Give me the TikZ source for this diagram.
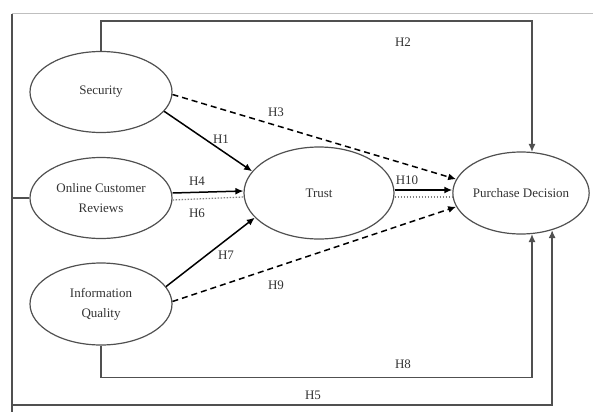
\documentclass[tikz,border=0pt]{standalone}
\usepackage{fontspec}
\setmainfont{Liberation Serif}
\usepackage{tikz}
\usetikzlibrary{shapes,arrows,arrows.meta,calc}
\definecolor{ink}{HTML}{333333}
\definecolor{wire}{HTML}{505050}
\tikzstyle{construct} = [draw=wire, ellipse, line width=1.2pt, inner sep=0pt, text centered, align=center, text=ink]
\tikzstyle{line} = [draw, -{Latex[length=8pt,width=7pt]}, line width=1.5pt]
\tikzstyle{link} = [line, draw=wire, line width=1.3pt]
\tikzstyle{dashedline} = [line, dash pattern=on 6pt off 4pt]
\tikzstyle{dottedline} = [draw=gray, line width=1.3pt, dash pattern=on 1.5pt off 1.5pt]
\tikzstyle{hyp} = [text=ink, inner sep=1pt]

\begin{document}
\begin{tikzpicture}[x=1pt, y=-1pt, node distance=106pt, font=\fontsize{13}{20}\selectfont]
        \useasboundingbox (0,0) rectangle (593,412);
        \draw[gray!50, line width=1pt] (593,14) -- (12,14);
        \draw[wire, line width=1.2pt] (12,14) -- (12,412);
        \node[construct, minimum width=142pt, minimum height=81pt] (sec) at (101,92) {Security};
        \node[construct, minimum width=142pt, minimum height=81pt, below of=sec] (ocr) {Online Customer\\Reviews};
        \node[construct, minimum width=142pt, minimum height=82pt, below of=ocr] (iq) {Information\\Quality};
        \node[construct, minimum width=150pt, minimum height=92pt] (trust) at (319,193) {Trust};
        \node[construct, minimum width=136pt, minimum height=82pt, right of=trust, node distance=202pt] (pd) {Purchase Decision};
        \coordinate (h5) at (12,405);
        \path[link] (sec.north) -- ++(0,-30) -| (pd.75);
        \path[dashedline] (sec.-2) -- (pd.168);
        \path[line] (sec.-17) -- (trust.162);
        \path[line] ([yshift=5pt]ocr.east) -- ([yshift=2pt]trust.west);
        \path[dottedline] ([yshift=-2pt]ocr.east) -- ([yshift=-4pt]trust.west);
        \path[line] (iq.15) -- (trust.-159);
        \path[dashedline] (iq.2) -- (pd.-168);
        \path[line] ([yshift=3pt]trust.east) -- ([yshift=3pt]pd.west);
        \path[dottedline] ([yshift=-4pt]trust.east) -- ([yshift=-4pt]pd.west);
        \path[link] (iq.south) -- ++(0,32) -| (pd.-75);
        \path[link] (ocr.west) -| (h5) -| (pd.-50);
        \node[hyp] at (403,42) {H2};
        \node[hyp] at (276,112) {H3};
        \node[hyp] at (221,139) {H1};
        \node[hyp] at (197,181) {H4};
        \node[hyp] at (197,213) {H6};
        \node[hyp] at (226,255) {H7};
        \node[hyp] at (276,285) {H9};
        \node[hyp] at (407,180) {H10};
        \node[hyp] at (403,364) {H8};
        \node[hyp] at (313,395) {H5};
    \end{tikzpicture}
\end{document}
